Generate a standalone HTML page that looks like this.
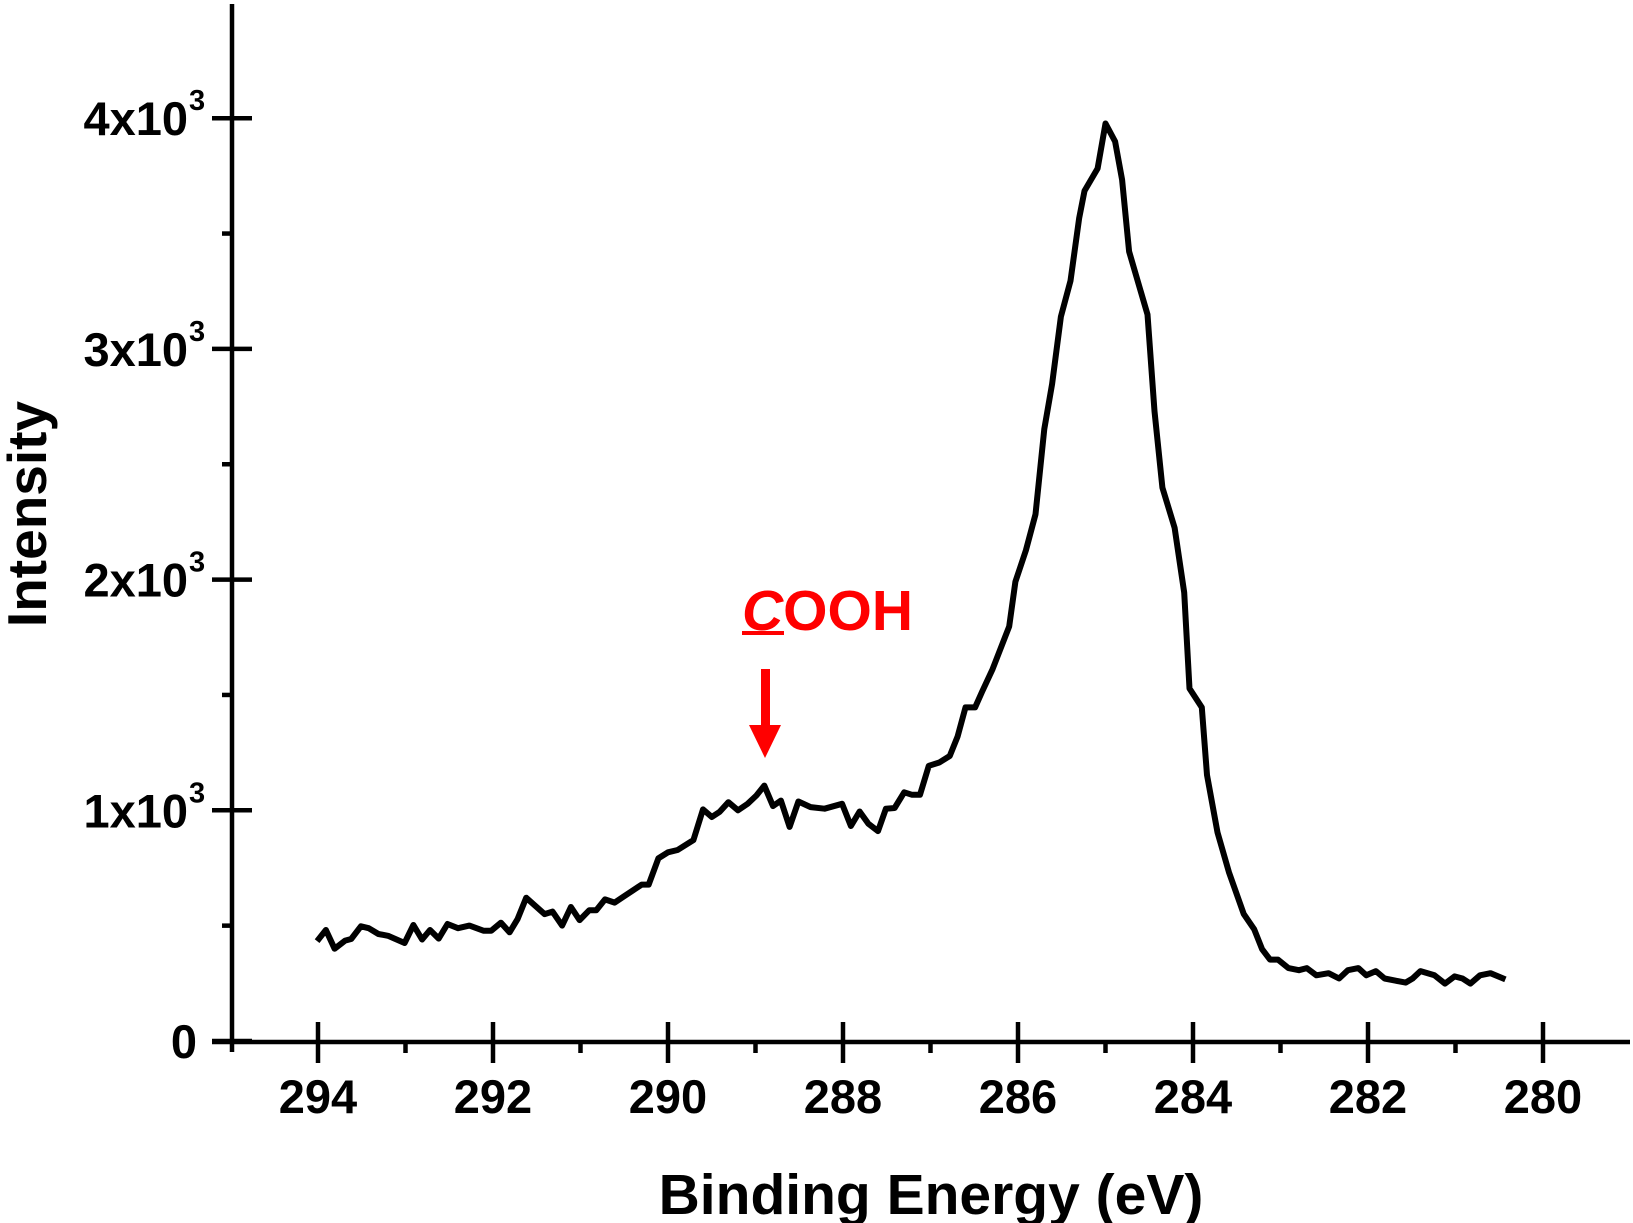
<!DOCTYPE html>
<html><head><meta charset="utf-8"><style>
html,body{margin:0;padding:0;background:#fff;}
svg{display:block;}
text{font-family:"Liberation Sans",Arial,sans-serif;font-weight:bold;}
</style></head><body>
<svg id="chart" width="1633" height="1223" viewBox="0 0 1633 1223" xmlns="http://www.w3.org/2000/svg">
<g id="axes"></g>
<path id="curve" fill="none" stroke="#000" stroke-width="6" stroke-linejoin="round"/>
<g>
<text x="742" y="630" font-size="57" fill="#ff0000"><tspan font-style="italic">C</tspan>OOH</text>
<rect x="742" y="631" width="42" height="4" fill="#ff0000"/>
<rect x="761" y="669" width="9" height="58" fill="#ff0000"/>
<polygon points="749,725 781,725 765,758" fill="#ff0000"/>
</g>
<text x="931" y="1214" font-size="57" text-anchor="middle">Binding Energy (eV)</text>
<text transform="translate(46,514) rotate(-90)" font-size="55" text-anchor="middle">Intensity</text>
</svg>
<script>
const energies=[294.01,293.91,293.81,293.69,293.62,293.51,293.42,293.31,293.20,293.01,292.91,292.81,292.72,292.62,292.52,292.40,292.27,292.11,292.02,291.91,291.81,291.72,291.62,291.41,291.32,291.21,291.11,291.01,290.90,290.82,290.72,290.61,290.50,290.30,290.22,290.11,290.00,289.89,289.71,289.60,289.50,289.41,289.31,289.20,289.09,288.99,288.90,288.80,288.71,288.61,288.51,288.37,288.21,288.01,287.91,287.81,287.71,287.60,287.51,287.41,287.30,287.21,287.12,287.02,286.90,286.78,286.69,286.60,286.49,286.41,286.29,286.10,286.03,285.91,285.80,285.70,285.61,285.51,285.40,285.30,285.24,285.09,285.00,284.89,284.81,284.73,284.52,284.44,284.35,284.21,284.10,284.04,283.90,283.84,283.72,283.59,283.42,283.30,283.21,283.12,283.03,282.91,282.79,282.70,282.59,282.45,282.33,282.23,282.11,282.02,281.91,281.81,281.69,281.57,281.49,281.40,281.24,281.12,281.01,280.92,280.83,280.72,280.60,280.43];
const intensities=[433,481,400,435,442,497,489,464,456,425,503,440,481,444,507,489,500,478,478,513,471,528,621,550,561,500,581,524,567,567,614,600,628,678,678,792,818,828,871,1004,971,993,1035,1000,1028,1064,1107,1018,1042,928,1038,1014,1007,1028,932,995,942,910,1007,1010,1078,1067,1067,1193,1207,1236,1320,1446,1446,1514,1612,1797,1991,2127,2283,2653,2848,3140,3295,3568,3685,3782,3977,3899,3733,3422,3149,2730,2399,2225,1944,1528,1446,1153,904,732,551,484,398,353,353,316,307,316,285,294,271,307,316,285,303,271,262,253,271,303,285,249,280,271,249,285,294,267];
const xTickValues=[294,292,290,288,286,284,282,280];
const xTickLabels=["294","292","290","288","286","284","282","280"];
const xMinorValues=[293,291,289,287,285,283,281];
const yTickValues=[0,1000,2000,3000,4000];
const yTickMantissa=["0","1","2","3","4"];
const yMinorValues=[500,1500,2500,3500];

const X=e=>318+(294-e)*87.5;
const Y=v=>1041-v*0.2307;
const NS="http://www.w3.org/2000/svg";
const axes=document.getElementById('axes');
function mk(tag,attrs,parent){const el=document.createElementNS(NS,tag);for(const k in attrs)el.setAttribute(k,attrs[k]);(parent||axes).appendChild(el);return el;}

const yAxis=mk('line',{x1:232,y1:4,x2:232,y2:1052,stroke:'#000','stroke-width':4.5});


const xAxis=mk('line',{x1:212,y1:1042,x2:1630,y2:1042,stroke:'#000','stroke-width':4.5});



xTickValues.forEach((v,i)=>{
  const t=mk('line',{x1:X(v),y1:1022,x2:X(v),y2:1063,stroke:'#000','stroke-width':4.5});
  
  
  const l=mk('text',{x:X(v),y:1113,'font-size':47,'text-anchor':'middle'});
  l.textContent=xTickLabels[i];
  
  
});
xMinorValues.forEach(v=>{
  const t=mk('line',{x1:X(v),y1:1042,x2:X(v),y2:1053,stroke:'#000','stroke-width':4.5});
  
  
});
yTickValues.forEach((v,i)=>{
  const t=mk('line',{x1:212,y1:Y(v),x2:252,y2:Y(v),stroke:'#000','stroke-width':4.5});
  
  
  const l=mk('text',{x:v===0?197:188,y:Y(v)+17,'font-size':47,'text-anchor':'end'});
  
  
  if(v===0){l.textContent='0';}
  else{
    l.textContent=yTickMantissa[i]+'x10';
    const s=mk('text',{x:189,y:Y(v)-8,'font-size':29});
    s.textContent='3';
    
    
  }
});
yMinorValues.forEach(v=>{
  const t=mk('line',{x1:222,y1:Y(v),x2:232,y2:Y(v),stroke:'#000','stroke-width':4.5});
  
  
});

document.getElementById('curve').setAttribute('d',energies.map((e,i)=>(i?'L':'M')+X(e).toFixed(1)+','+Y(intensities[i]).toFixed(1)).join(' '));
</script>
</body></html>
